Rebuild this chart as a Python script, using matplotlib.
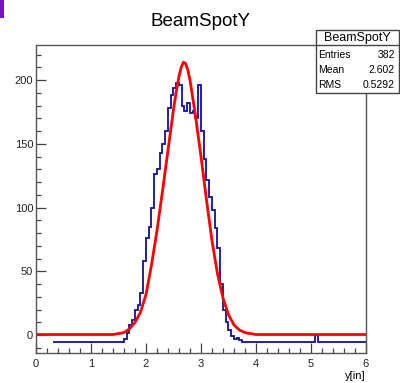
import matplotlib.pyplot as plt
from matplotlib.patches import Rectangle
from matplotlib.ticker import MultipleLocator

plt.rcParams['font.family'] = ['Liberation Sans', 'DejaVu Sans']

# histogram (blue): bin edges and contents
hist_edges = [0.3, 1.60, 1.65, 1.70, 1.75, 1.80, 1.85, 1.90, 1.95, 2.00, 2.05,
              2.10, 2.15, 2.20, 2.25, 2.30, 2.35, 2.40, 2.45, 2.50, 2.55,
              2.60, 2.65, 2.70, 2.75, 2.80, 2.85, 2.90, 2.95, 3.00, 3.05,
              3.10, 3.15, 3.20, 3.25, 3.30, 3.35, 3.40, 3.45, 3.50, 3.55,
              3.60, 3.65, 3.70, 3.75, 5.08, 5.13, 6.0]
hist_vals = [-5, -3, 2, 8, 12, 20, 24, 33, 58, 76,
             85, 100, 126, 130, 143, 150, 160, 178, 188, 194,
             198, 196, 180, 176, 182, 174, 176, 170, 196, 160,
             138, 122, 108, 98, 84, 68, 40, 20, 10, 4,
             -1, -3, -2, -4, -5, 0, -5]

# fit curve (red)
fit_x = [0.0, 1.4, 1.6, 1.7, 1.8, 1.9, 2.0, 2.1, 2.2, 2.3, 2.4, 2.5, 2.55,
         2.6, 2.64, 2.68, 2.72, 2.76, 2.8, 2.9, 3.0, 3.1, 3.2, 3.3, 3.4,
         3.5, 3.6, 3.7, 3.8, 4.0, 6.0]
fit_y = [0.5, 0.5, 2, 5, 10, 18, 32, 55, 82, 113, 145, 177, 191,
         203, 210, 214, 213, 208, 200, 172, 140, 106, 74, 48, 29,
         16, 8, 4, 2, 0.5, 0.5]

stats = [("Entries", "382"), ("Mean", "2.602"), ("RMS", "0.5292")]

fig = plt.figure(figsize=(4.0, 3.83), dpi=100)
ax = fig.add_axes([0.09, 0.0783, 0.825, 0.8042])

ax.stairs(hist_vals, hist_edges, color='#10109a', lw=1.3, baseline=None)
ax.plot(fit_x, fit_y, color='red', lw=2, solid_joinstyle='round')

ax.set_xlim(0, 6)
ax.set_ylim(-14, 227.5)
ax.xaxis.set_major_locator(MultipleLocator(1))
ax.xaxis.set_minor_locator(MultipleLocator(0.2))
ax.yaxis.set_major_locator(MultipleLocator(50))
ax.yaxis.set_minor_locator(MultipleLocator(10))
ax.tick_params(which='both', direction='in', colors='#444444', labelcolor='#222222',
               labelsize=8, width=0.9)
ax.tick_params(which='major', length=7)
ax.tick_params(which='minor', length=3.5)
ax.tick_params(axis='x', pad=4)
ax.tick_params(axis='y', pad=2)
for s in ax.spines.values():
    s.set_color('#555555')
    s.set_linewidth(1.0)

ax.set_xlabel('y[in]', fontsize=8, loc='right', labelpad=2)
fig.text(0.5, 0.945, 'BeamSpotY', ha='center', va='center', fontsize=13.5)

# stats box
bx0, bx1, by0, by1 = 0.79, 0.9975, 0.757, 0.9217
fig.patches.append(Rectangle((bx0, by0), bx1 - bx0, by1 - by0, transform=fig.transFigure,
                             facecolor='white', edgecolor='#444444', lw=1.0, zorder=5))
fig.add_artist(plt.Line2D([bx0, bx1], [0.8825, 0.8825], transform=fig.transFigure,
                          color='#444444', lw=1.0, zorder=6))
fig.text((bx0 + bx1) / 2, 0.901, 'BeamSpotY', ha='center', va='center', fontsize=9, zorder=7)
for i, (k, v) in enumerate(stats):
    yy = 0.857 - i * 0.04
    fig.text(bx0 + 0.006, yy, k, ha='left', va='center', fontsize=7.5, zorder=7)
    fig.text(bx1 - 0.01, yy, v, ha='right', va='center', fontsize=7.5, zorder=7)

# purple corner mark
fig.patches.append(Rectangle((0, 1 - 18 / 383), 4 / 400, 18 / 383, transform=fig.transFigure,
                             facecolor='#7a10c8', edgecolor='none'))

fig.savefig('out.png', dpi=100)
